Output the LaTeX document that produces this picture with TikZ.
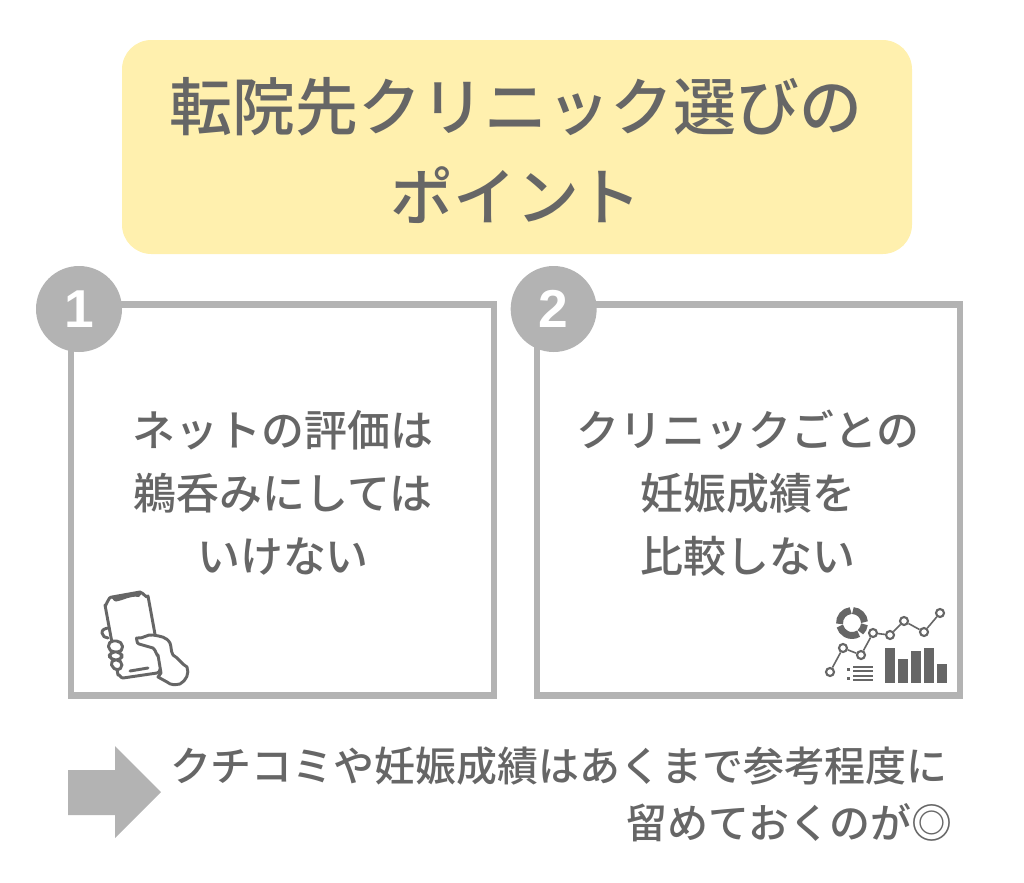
\documentclass[tikz,border=0pt]{standalone}
\usepackage{fontspec}
\setmainfont{Noto Sans CJK JP}
\newfontfamily\titlefont{Noto Sans CJK JP Medium}
\newfontfamily\numfont{Liberation Sans}
\definecolor{textgray}{HTML}{666666}
\definecolor{boxgray}{HTML}{B3B3B3}
\definecolor{titleyellow}{HTML}{FFF0AE}
\begin{document}
\begin{tikzpicture}[x=0.75pt,y=-0.75pt,node distance = {349.3pt},
title/.style = {fill=titleyellow, rounded corners=22pt, minimum width=592.5pt, minimum height=160.5pt},
point/.style = {draw=boxgray, line width=4.7pt, fill=white, rectangle, minimum width=317.25pt, minimum height=293.25pt},
badge/.style = {fill=boxgray, circle, minimum size=64.5pt, inner sep=0pt, text=white, font=\numfont\fontsize{40}{40}\selectfont\bfseries},
body/.style = {text=textgray, align=center, inner sep=0pt, font=\titlefont\fontsize{32.2}{47}\selectfont},
foot/.style = {text=textgray, anchor=east, inner sep=0pt, font=\titlefont\fontsize{30.7}{43}\selectfont},
icon/.style = {draw=textgray, line width=2.2pt, line join=round, line cap=round}]

    \useasboundingbox (0,0) rectangle (1024,882);

    \node[title](head) at (517,147) {};
    \node[text=textgray, align=center, inner sep=0pt, font=\titlefont\fontsize{47.2}{67.5}\selectfont] (headtext) at (516,150) {転院先クリニック選びの\\ポイント};

    \node[point](box1) at (282.5,500) {};
    \node[point, right of=box1](box2) {};

    \node[badge](num1) at (79,309) {1};
    \node[badge, right of=num1, xshift=6.7pt](num2) {2};

    \node[body](text1) at (283,493) {ネットの評価は\\鵜呑みにしては\\いけない};
    \node[body](text2) at (748,493) {クリニックごとの\\妊娠成績を\\比較しない};

    % phone
    \draw[icon] (112,597) -- (140,592) to[out=-10,in=-110] (148,596) -- (161,667) to[out=80,in=-15] (157,673) -- (123,678) to[out=190,in=80] (118,675) -- (105,605) to[out=-85,in=170] (112,597);
    \fill[textgray] (110,598) -- (143,592) -- (139,597) to[out=170,in=10] (116,601.5) to[out=185,in=30] (110,598);
    \draw[icon] (130,671) -- (148,668);
    % hand
    \draw[icon, fill=white] (137,638) to[out=-10,in=170] (153,635) to[out=-10,in=120] (170,643) to[out=-70,in=120] (173,655) to[out=-30,in=150] (187,667) to[out=-70,in=30] (180,684) to[out=190,in=-40] (167,682) -- (158,677) -- (161,673) -- (158,655) to[out=-100,in=-30] (153,648) -- (139,644) to[out=190,in=110] (137,638);
    \draw[icon] (109,628) to[out=180,in=100] (102,633) to[out=-80,in=180] (108,638);
    \draw[icon, fill=white, rounded corners=4pt] (108,641) -- (122,641) -- (123,652) -- (109,652) -- cycle;
    \draw[icon, fill=white, rounded corners=4pt] (109,652) -- (122,652) -- (122,660) -- (110,660) -- cycle;
    \draw[icon, fill=white, rounded corners=4pt] (110,660) -- (122,660) -- (122,670) -- (113,670) -- cycle;

    % chart
    \foreach \x/\y/\name in {830/672/p1, 843/648/p2, 861/655/p3, 873/633/p4, 890/635/p5, 904/621/p6, 924/632/p7, 940/613/p8}
        \node[draw=textgray, line width=1.6pt, fill=white, circle, minimum size=6pt, inner sep=0pt](\name) at (\x,\y) {};
    \foreach \a/\b in {p1/p2, p2/p3, p3/p4, p4/p5, p5/p6, p6/p7, p7/p8}
        \draw[textgray, line width=1.2pt] (\a) -- (\b);

    \foreach \x/\h in {885/35, 898/24, 911/32, 924/35, 937/19}
        \fill[textgray] (\x,683) rectangle ++(9.5,-\h);

    \foreach \a/\b in {-86/-4, 6/48, 58/166, 176/264}
        \draw[textgray, line width=5.2pt] (852,623) ++(\a:12.5) arc[start angle=\a, end angle=\b, radius=12.5];

    \foreach \y in {667,671,676,680}
        \draw[textgray, line width=0.8pt] (853,\y) -- (873,\y);
    \fill[textgray] (846.5,667.5) rectangle (850,670.5);
    \fill[textgray] (846.5,676.5) rectangle (850,679.5);

    % bottom
    \fill[boxgray] (68,770) -- (115,770) -- (115,746) -- (161,792) -- (115,838) -- (115,815) -- (68,815) -- cycle;
    \node[foot](foot1) at (948,766) {クチコミや妊娠成績はあくまで参考程度に};
    \node[foot](foot2) at (953,823) {留めておくのが◎};

\end{tikzpicture}
\end{document}
